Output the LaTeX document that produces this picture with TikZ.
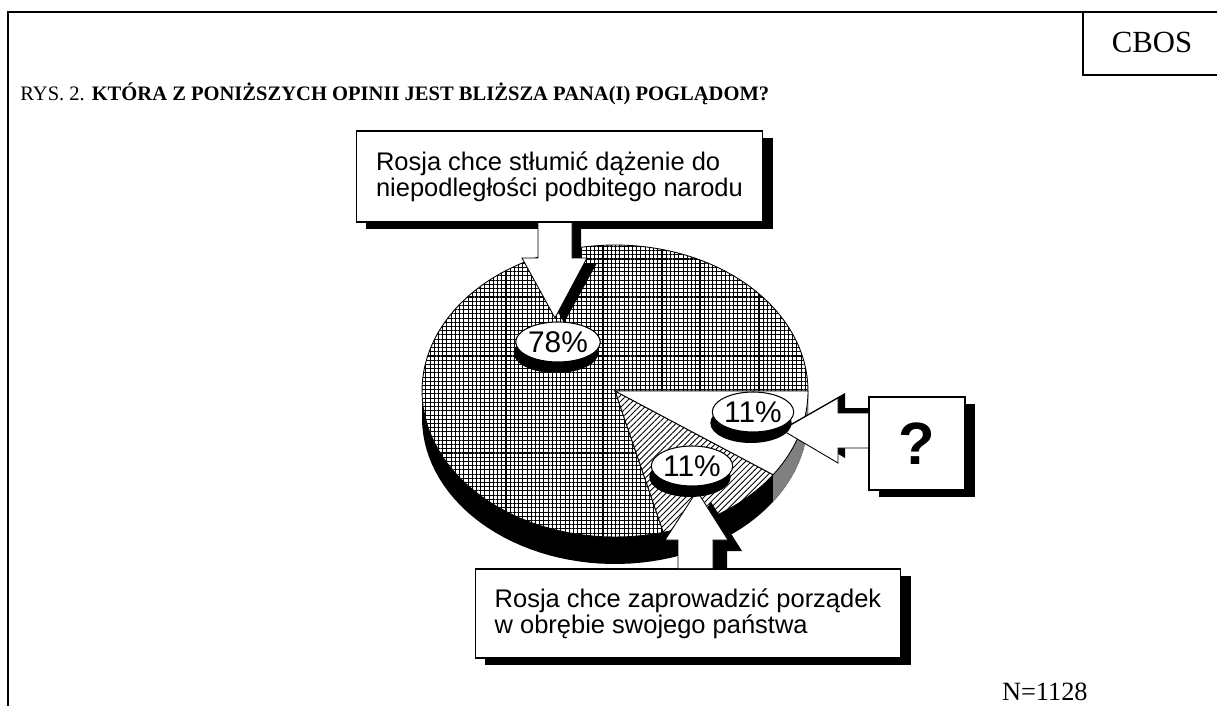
\documentclass[tikz,border=0pt]{standalone}
\usepackage{fontspec}
\setmainfont{Liberation Serif}
\newfontfamily\arialfont{Liberation Sans}
\usetikzlibrary{shadows,patterns.meta,shapes.geometric}

\begin{document}
\begin{tikzpicture}[x=0.02cm,y=-0.02cm,
	frame/.style={line width=1.4pt},
	opinion/.style={draw,fill=white,line width=0.6pt,align=left,
		font=\arialfont\fontsize{14.5}{15}\selectfont,
		drop shadow={fill=black,opacity=1,shadow xshift=0.2cm,shadow yshift=-0.14cm}},
	percent/.style={ellipse,draw,fill=white,line width=0.6pt,inner sep=0pt,
		minimum width=1.5cm,minimum height=0.8cm,
		font=\arialfont\fontsize{17}{17}\selectfont,
		drop shadow={fill=black,opacity=1,shadow xshift=-0.04cm,shadow yshift=-0.22cm}},
	slice/.style={draw,line width=0.5pt,fill=white},
	arrowbody/.style={draw,fill=white,line width=0.5pt,line join=miter},
	arrowshadow/.style={fill=black}]
\useasboundingbox (0,0) rectangle (1217,706);

% frame and headings
\draw[frame] (8,706) -- (8,12) -- (1217,12);
\draw[frame] (1083,12) -- (1083,75) -- (1217,75);
\node (cbos) at (1152,42) {\fontsize{17.5}{20}\selectfont CBOS};
\node[anchor=base west,inner sep=0pt] (title) at (20,101) {\fontsize{11.7}{14}\selectfont RYS. 2. \textbf{KTÓRA Z PONIŻSZYCH OPINII JEST BLIŻSZA PANA(I) POGLĄDOM?}};
\node[anchor=base east,inner sep=0pt] (n) at (1088,700) {\fontsize{15}{18}\selectfont N=1128};

% pie side
\fill[black] plot[domain=0:180,samples=60] ({615+193*cos(\x)},{391+146*sin(\x)})
	-- plot[domain=180:0,samples=60] ({615+193*cos(\x)},{418+146*sin(\x)}) -- cycle;
\fill[gray] plot[domain=0:35,samples=20] ({615+193*cos(\x)},{391+146*sin(\x)})
	-- plot[domain=35:0,samples=20] ({615+193*cos(\x)},{418+146*sin(\x)}) -- cycle;

% pie top
\coordinate (c) at (615,391);
\draw[slice,postaction={pattern={Lines[angle=0,distance=2.4pt,line width=0.6pt]}},
	postaction={pattern={Lines[angle=90,distance=2.4pt,line width=0.6pt]}}]
	(c) -- plot[domain=75.5:360,samples=100] ({615+193*cos(\x)},{391+146*sin(\x)}) -- cycle;
\draw[slice,postaction={pattern={Lines[angle=45,distance=2.4pt,line width=0.5pt]}}]
	(c) -- plot[domain=35:75.5,samples=30] ({615+193*cos(\x)},{391+146*sin(\x)}) -- cycle;
\draw[slice] (c) -- plot[domain=0:35,samples=30] ({615+193*cos(\x)},{391+146*sin(\x)}) -- cycle;

% answers
\node[opinion,minimum width=8.14cm,minimum height=1.82cm] (opA) at (559.5,176.5)
	{Rosja chce stłumić dążenie do\\niepodległości podbitego narodu};
\node[opinion,minimum width=8.52cm,minimum height=1.78cm] (opB) at (688,613.5)
	{Rosja chce zaprowadzić porządek\\w obrębie swojego państwa};
\node[opinion,minimum width=1.92cm,minimum height=1.86cm,
	font=\arialfont\bfseries\fontsize{34}{34}\selectfont] (dk) at (917,443.5) {?};

% block arrows
\fill[arrowshadow] (547,223) -- (547,263) -- (532,263) -- (564,323) -- (597,263) -- (581,263) -- (581,223) -- cycle;
\draw[arrowbody] (538,223) -- (538,258) -- (522,258) -- (555,318) -- (587,258) -- (572,258) -- (572,223);
\fill[arrowshadow] (692,568) -- (692,551) -- (679,551) -- (711,502) -- (742,551) -- (727,551) -- (727,568) -- cycle;
\draw[arrowbody] (678,568) -- (678,540) -- (665,540) -- (697,491) -- (728,540) -- (713,540) -- (713,568);
\fill[arrowshadow] (868,408) -- (845,408) -- (845,393) -- (789,425) -- (845,458) -- (845,443) -- (868,443) -- cycle;
\draw[arrowbody] (868,413) -- (838,413) -- (838,398) -- (782,430) -- (838,463) -- (838,448) -- (868,448);

% labels
\node[percent] (p78) at (558,342) {78\%};
\node[percent] (p11a) at (753,412) {11\%};
\node[percent] (p11b) at (692,466) {11\%};
\end{tikzpicture}
\end{document}
